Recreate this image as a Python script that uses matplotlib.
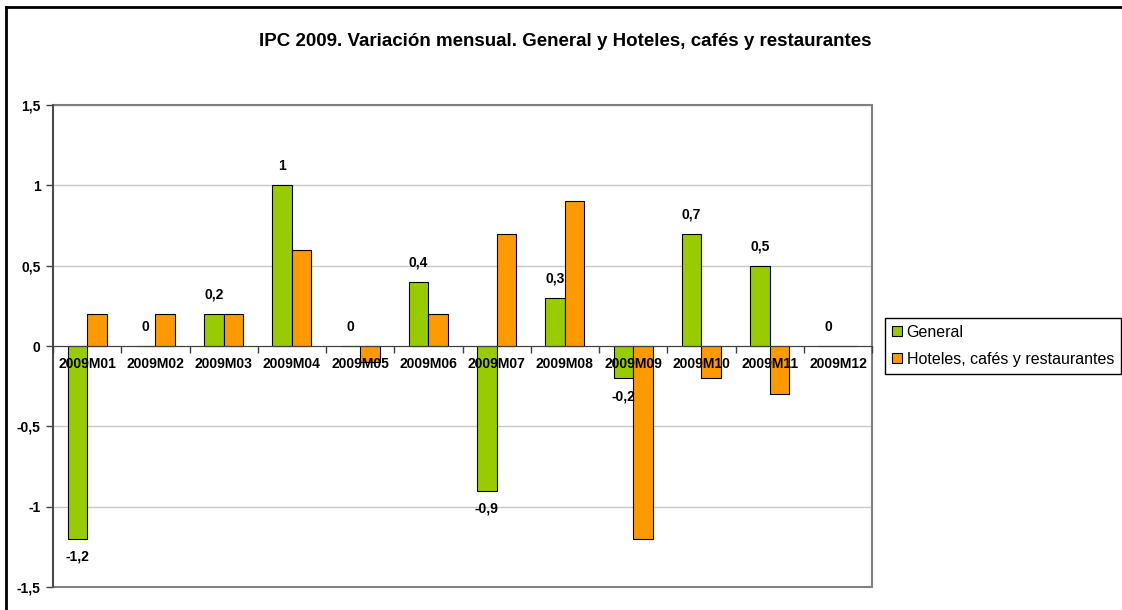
import matplotlib
matplotlib.use("Agg")
from matplotlib import pyplot as plt
from matplotlib.patches import Rectangle
from matplotlib.lines import Line2D
import numpy as np

plt.rcParams['font.family'] = ['Liberation Sans', 'DejaVu Sans']

# data
meses = ['2009M01', '2009M02', '2009M03', '2009M04', '2009M05', '2009M06',
         '2009M07', '2009M08', '2009M09', '2009M10', '2009M11', '2009M12']
general = [-1.2, 0, 0.2, 1, 0, 0.4, -0.9, 0.3, -0.2, 0.7, 0.5, 0]
hoteles = [0.2, 0.2, 0.2, 0.6, -0.1, 0.2, 0.7, 0.9, -1.2, -0.2, -0.3, 0]
yticks = [-1.5, -1, -0.5, 0, 0.5, 1, 1.5]

VERDE = '#99CC00'
NARANJA = '#FF9900'

def coma(v):
    s = ('%g' % v).replace('.', ',')
    return s

fig = plt.figure(figsize=(11.22, 6.10), dpi=100)
ax = fig.add_axes([53/1122, 23/610, (872-53)/1122, (587-105)/610])

# el eje x cruza en 0 (antes de tocar ticks, set_position los resetea)
ax.spines['bottom'].set_position(('data', 0))
ax.spines['bottom'].set_color('#404040')
ax.spines['bottom'].set_zorder(4)
ax.spines['left'].set_color('#404040')
ax.spines['left'].set_linewidth(1.2)
ax.spines['top'].set_visible(False)
ax.spines['right'].set_visible(False)

x = np.arange(len(meses))
w = 0.285
ax.bar(x - w/2, general, w, color=VERDE, edgecolor='black', linewidth=0.8,
       label='General', zorder=3)
ax.bar(x + w/2, hoteles, w, color=NARANJA, edgecolor='black', linewidth=0.8,
       label='Hoteles, cafés y restaurantes', zorder=3)

# etiquetas de datos (solo General)
for xi, v in zip(x, general):
    off = 14 if v >= 0 else -13
    ax.annotate(coma(v), (xi - w/2, v), xytext=(0, off), textcoords='offset points',
                ha='center', va='center', fontsize=10, fontweight='bold', zorder=6)

ax.set_xlim(-0.5, len(meses) - 0.5)
ax.set_ylim(-1.5, 1.5)
ax.set_yticks(yticks)
ax.set_yticklabels([coma(v) for v in yticks], fontsize=10, fontweight='bold')
ax.tick_params(axis='y', direction='out', length=5, width=1, color='#404040', pad=4)

ax.set_xticks(x)
ax.set_xticklabels(meses, fontsize=10, fontweight='bold')
ax.set_xticks(np.arange(len(meses) + 1) - 0.5, minor=True)
ax.tick_params(axis='x', which='major', length=0, pad=8)
ax.tick_params(axis='x', which='minor', direction='out', length=5, width=1, color='#404040')

ax.yaxis.grid(True, color='#c8c8c8', linewidth=1)
ax.set_axisbelow(True)
ax.xaxis.set_zorder(5)

ax.add_patch(Rectangle((0, 0), 1, 1, transform=ax.transAxes, fill=False,
                       edgecolor='#808080', linewidth=1.5, zorder=2, clip_on=False))

ax.legend(loc='center left', bbox_to_anchor=(885/1122, 1 - 346/610), bbox_transform=fig.transFigure,
          fontsize=11.5, frameon=True, fancybox=False, edgecolor='black', framealpha=1,
          handlelength=0.6, handleheight=0.6, handletextpad=0.3, borderpad=0.45,
          labelspacing=0.75, borderaxespad=0)

fig.text(0.5 * (250 + 880) / 1122, 1 - 42/610,
         'IPC 2009. Variación mensual. General y Hoteles, cafés y restaurantes',
         ha='center', va='center', fontsize=13.5, fontweight='bold')

# borde exterior del grafico (solo izquierda y arriba visibles)
fig.add_artist(Line2D([6/1122, 6/1122], [0, 1 - 7/610], transform=fig.transFigure,
                      color='black', linewidth=2))
fig.add_artist(Line2D([6/1122, 1], [1 - 7/610, 1 - 7/610], transform=fig.transFigure,
                      color='black', linewidth=2))

fig.savefig('out.png', dpi=100)
